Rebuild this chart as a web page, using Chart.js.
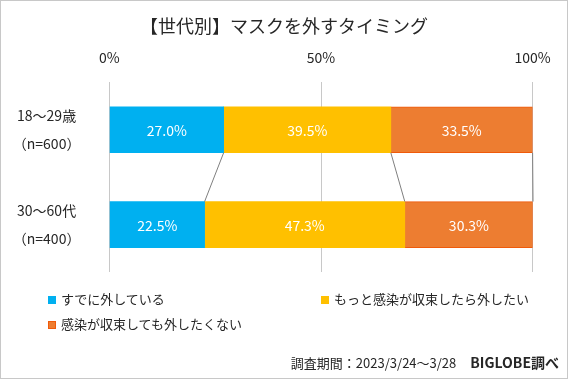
<!DOCTYPE html>
<html><head><meta charset="utf-8">
<script src="https://cdn.jsdelivr.net/npm/chart.js@4/dist/chart.umd.min.js"></script>
<style>
html,body{margin:0;padding:0;background:#fff;}
#wrap{position:relative;width:568px;height:379px;box-sizing:border-box;border:1px solid #c8c8c8;font-family:"Noto Sans CJK JP","Noto Sans",sans-serif;color:#262626;overflow:hidden;}
canvas{position:absolute;left:-1px;top:-1px;}
.lg{position:absolute;font-size:13px;line-height:16px;white-space:nowrap;}
.lg i{display:inline-block;width:8px;height:8px;margin-right:5px;vertical-align:0px;box-sizing:border-box;}
#foot{position:absolute;right:8px;top:351px;font-size:13px;white-space:nowrap;}
#foot b{margin-left:14px;font-size:14px;}
</style></head>
<body><div id="wrap"><canvas id="c" width="568" height="379"></canvas>
<div id="legend"></div>
<div id="foot">調査期間：2023/3/24～3/28<b>BIGLOBE調べ</b></div>
</div>
<script>
const titleText = "【世代別】マスクを外すタイミング";
const categories = [["18～29歳","（n=600）"],["30～60代","（n=400）"]];
const seriesNames = ["すでに外している","もっと感染が収束したら外したい","感染が収束しても外したくない"];
const already = [27.0, 22.5];
const afterMore = [39.5, 47.3];
const never = [33.5, 30.3];
const tickValues = [0, 50, 100];
const colors = ["#00B0F0","#FFC000","#ED7D31"];
const borders = ["#00B0F0","#FFC000","#F05A0A"];

const legendPos = [[47,290],[320,290],[47,315]];
const lg = document.getElementById('legend');
seriesNames.forEach((n,i)=>{
  const d=document.createElement('div');d.className='lg';
  d.style.left=legendPos[i][0]+'px';d.style.top=legendPos[i][1]+'px';
  d.innerHTML='<i style="background:'+colors[i]+';border:1px solid '+borders[i]+'"></i>'+n;
  lg.appendChild(d);
});

const font = '"Noto Sans CJK JP","Noto Sans",sans-serif';
const valueLabels = {
  id:'valueLabels',
  afterDatasetsDraw(chart){
    const ctx=chart.ctx;
    ctx.save();
    ctx.strokeStyle='#7f7f7f';ctx.lineWidth=1;
    chart.data.datasets.forEach((ds,i)=>{
      const m=chart.getDatasetMeta(i);
      const a=m.data[0], b=m.data[1];
      ctx.beginPath();
      ctx.moveTo(a.x, a.y + a.height/2);
      ctx.lineTo(b.x, b.y - b.height/2);
      ctx.stroke();
    });
    ctx.fillStyle='#fff';ctx.font='14px '+font;ctx.textAlign='center';ctx.textBaseline='middle';
    chart.data.datasets.forEach((ds,i)=>{
      const m=chart.getDatasetMeta(i);
      m.data.forEach((el,j)=>{
        ctx.fillText(ds.data[j].toFixed(1)+'%',(el.x+el.base)/2, el.y+1);
      });
    });
    ctx.restore();
  }
};

new Chart(document.getElementById('c'),{
  type:'bar',
  data:{labels:categories,datasets:[
    {label:seriesNames[0],data:already,backgroundColor:colors[0],borderColor:borders[0],borderWidth:0},
    {label:seriesNames[1],data:afterMore,backgroundColor:colors[1],borderColor:borders[1],borderWidth:0},
    {label:seriesNames[2],data:never,backgroundColor:colors[2],borderColor:borders[2],borderWidth:1}
  ]},
  options:{
    indexAxis:'y',responsive:false,animation:false,
    layout:{padding:{left:0,right:0,top:0,bottom:107}},
    plugins:{
      legend:{display:false},tooltip:{enabled:false},
      title:{display:true,text:titleText,color:'#262626',font:{family:font,size:18,weight:'normal'},padding:{top:15,bottom:8}}
    },
    datasets:{bar:{barThickness:46}},
    scales:{
      x:{position:'top',stacked:true,min:0,max:100,
        afterBuildTicks(s){s.ticks=tickValues.map(v=>({value:v}));},
        afterFit(s){s.height=37.7;},
        ticks:{callback:v=>v+'%',color:'#262626',font:{family:font,size:14},padding:16,maxRotation:0},
        grid:{color:'#c8c8c8',drawTicks:false},border:{display:false}},
      y:{stacked:true,
        afterFit(s){s.width=109.4;},
        ticks:{crossAlign:'center',padding:21,color:'#262626',font:{family:font,size:14,lineHeight:2}},
        grid:{display:false},border:{display:false}},
      yRight:{axis:'y',type:'linear',position:'right',min:0,max:1,
        afterFit(s){s.width=35.4;},
        ticks:{display:false},grid:{display:false,drawTicks:false},border:{display:false}}
    }
  },
  plugins:[valueLabels]
});
</script></body></html>
